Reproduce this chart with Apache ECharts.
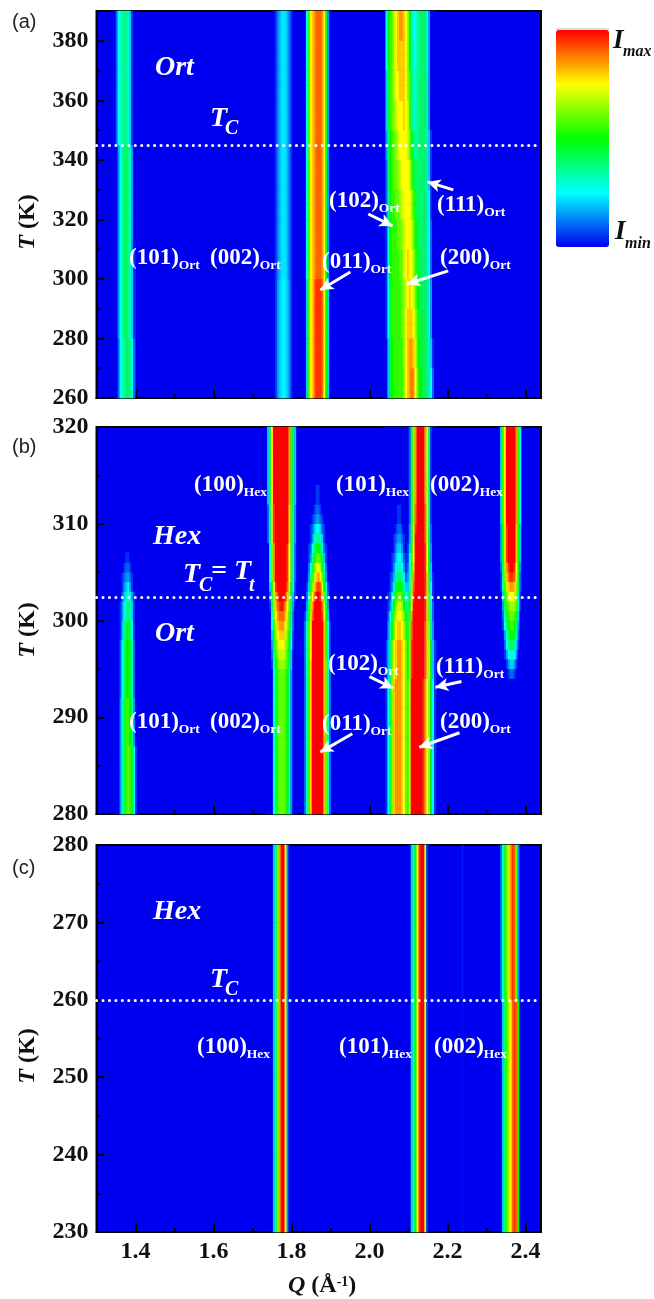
<!DOCTYPE html>
<html><head><meta charset="utf-8">
<style>html,body{margin:0;padding:0;background:#fff}#c{width:654px;height:1299px}</style>
<script src="https://cdn.jsdelivr.net/npm/echarts@6/dist/echarts.min.js"></script>
</head><body><div id="c"></div>
<script>
// Intensity is read on a 0-20 scale (blue 0, cyan 5, green 10, yellow 15, red 20).
// Each table: [T from, T to, intensities at successive Q columns, 0.005 apart].
const qMin = 1.30, qMax = 2.44, qStep = 0.005;

const a101 = [
 [260,280,[0,0,2,5,6,7,8,8,7,5,2]],
 [280,310,[0,0,3,5,7,8,8,7,6,4,1]],
 [310,345,[0,0,3,5,7,8,8,7,6,3,0]],
 [345,390,[0,2,5,6,7,7,7,6,4,1,0]]];
const a002 = [
 [260,300,[0,1,3,4,4.5,5,4.5,4,3,1,0]],
 [300,390,[0,1,2.5,3.5,4.5,4.5,4.5,3.5,2.5,1,0]]];
const a011 = [
 [260,300,[0,4,11,15,16,18,19,19,19,18,15,10,4,0]],
 [300,390,[0,5,11,15,16,17,18,18,18,17,15,9,3,0]]];
const aBig = [
 [260,270,[0,0,4,9,10,11,11,11,11,11,13,15,16,17,18,17,15,12,10,10,9,8,8,7,5,2,0]],
 [270,280,[0,0,4,9,10,11,11,11,11,11,13,15,16,17,17,16,14,11,10,9,9,8,8,7,4,1,0]],
 [280,290,[0,1,5,9,11,11,11,11,11,12,13,15,16,16,16,15,13,11,9,9,9,8,8,6,3,0,0]],
 [290,300,[0,1,5,9,11,11,11,11,11,12,13,14,15,16,15,14,12,10,9,9,8,8,8,6,3,0,0]],
 [300,310,[0,1,6,10,11,11,11,11,12,12,14,15,16,15,15,13,11,9,9,8,8,8,7,5,2,0,0]],
 [310,320,[0,1,6,10,11,11,11,12,12,13,14,15,15,15,14,12,10,9,8,8,8,8,7,5,2,0,0]],
 [320,330,[0,2,7,10,11,11,12,12,13,14,15,15,15,15,13,11,9,8,8,8,8,8,7,5,1,0,0]],
 [330,340,[0,2,8,10,11,12,12,13,14,15,15,15,15,14,11,9,8,8,8,8,8,8,7,4,1,0,0]],
 [340,350,[0,3,8,10,11,12,13,14,15,15,15,15,14,12,10,8,7,7,8,8,8,8,7,4,1,0,0]],
 [350,360,[0,4,9,11,12,13,14,15,15,15,16,15,14,11,8,6,6,7,8,8,8,8,7,3,0,0,0]],
 [360,370,[0,4,9,11,12,14,15,15,16,16,16,15,13,11,8,6,6,7,8,8,8,8,7,3,0,0,0]],
 [370,380,[0,5,10,11,12,14,15,16,16,16,16,15,13,10,7,6,5,7,8,8,8,8,6,3,0,0,0]],
 [380,390,[0,5,10,11,12,14,15,16,17,17,16,15,13,10,7,5,5,7,8,8,8,8,6,3,0,0,0]]];

const b101 = [
 [280,287,[0,0,0,3,6,9,11,12,11,9,5,1,0]],
 [287,292,[0,0,0,3,6,9,11,11,10,7,3,0,0]],
 [292,298,[0,0,0,2,5,8,10,10,9,6,2,0,0]],
 [298,300,[0,0,0,1,4,7,9,9,8,5,1,0,0]],
 [300,302,[0,0,0,1,3,5,7,8,6,4,1,0,0]],
 [302,303,[0,0,0,0,2,4,6,6,5,3,1,0,0]],
 [303,304,[0,0,0,0,1,3,4,5,3,1,0,0,0]],
 [304,305,[0,0,0,0,1,2,3,3,2,1,0,0,0]],
 [305,306,[0,0,0,0,0,1,2,2,1,0,0,0,0]],
 [306,307,[0,0,0,0,0,0,1,1,0,0,0,0,0]]];
const b100 = [
 [280,295,[0,0,0,0,5,9,11,12,12,12,11,10,7,3,0,0,0]],
 [295,296,[0,0,0,1,6,10,12,13,13,13,12,11,8,4,0,0,0]],
 [296,297,[0,0,0,2,8,11,13,14,14,14,13,11,9,4,0,0,0]],
 [297,298,[0,0,0,3,9,12,14,15,15,15,13,12,10,5,1,0,0]],
 [298,299,[0,0,0,4,10,13,15,16,16,16,14,12,10,6,1,0,0]],
 [299,300,[0,0,0,5,11,14,16,17,17,17,15,13,11,7,2,0,0]],
 [300,301,[0,0,0,6,12,15,17,18,18,18,16,14,11,7,2,0,0]],
 [301,302,[0,0,1,8,13,16,18,19,20,19,17,15,12,8,3,0,0]],
 [302,303,[0,0,2,9,14,17,19,20,20,20,19,16,13,9,4,1,0]],
 [303,304,[0,0,4,10,15,19,20,20,20,20,20,18,14,10,5,1,0]],
 [304,308,[0,0,6,12,17,20,20,20,20,20,20,19,15,11,6,2,0]],
 [308,312,[0,2,8,14,19,20,20,20,20,20,20,20,16,11,7,3,0]],
 [312,320,[0,4,9,15,20,20,20,20,20,20,20,20,17,11,8,4,0]]];
const b011 = [
 [280,296,[0,2,6,11,16,20,20,20,20,20,20,16,12,6,2,0]],
 [296,300,[0,2,6,11,15,20,20,20,20,20,20,16,11,5,1,0]],
 [300,301,[0,1,4,9,14,18,20,20,20,20,19,15,9,4,0,0]],
 [301,302,[0,0,3,8,13,17,20,20,20,20,18,14,8,3,0,0]],
 [302,303,[0,0,2,6,11,15,18,20,20,19,16,12,6,2,0,0]],
 [303,304,[0,0,1,4,9,13,16,18,19,18,14,10,5,1,0,0]],
 [304,305,[0,0,0,3,7,11,14,16,17,15,12,8,3,0,0,0]],
 [305,306,[0,0,0,2,5,9,12,14,15,13,10,6,2,0,0,0]],
 [306,307,[0,0,0,1,3,7,10,12,12,11,8,4,1,0,0,0]],
 [307,308,[0,0,0,1,2,5,8,10,10,8,6,2,1,0,0,0]],
 [308,309,[0,0,0,0,1,3,6,7,7,6,4,1,0,0,0,0]],
 [309,310,[0,0,0,0,1,2,4,5,5,4,2,1,0,0,0,0]],
 [310,311,[0,0,0,0,0,1,2,3,3,2,1,0,0,0,0,0]],
 [311,312,[0,0,0,0,0,0,1,2,2,1,0,0,0,0,0,0]],
 [312,314,[0,0,0,0,0,0,0,1,1,0,0,0,0,0,0,0]]];
const bBig = [
 [280,294,[0,1,5,9,13,16,17,17,17,16,15,12,11,14,20,20,20,20,20,20,19,17,15,13,10,5,1]],
 [294,298,[0,1,4,8,12,15,16,17,17,16,15,12,10,13,19,20,20,20,20,20,20,18,16,14,10,4,1]],
 [298,300,[0,0,3,7,10,13,15,16,16,15,13,11,9,12,18,20,20,20,20,20,20,18,16,13,8,3,0]],
 [300,301,[0,0,2,5,9,12,14,15,15,14,12,10,8,11,17,20,20,20,20,20,20,19,16,12,7,2,0]],
 [301,302,[0,0,1,3,7,10,13,14,14,13,10,8,7,10,15,20,20,20,20,20,20,19,16,12,6,2,0]],
 [302,303,[0,0,1,2,5,8,11,12,12,11,8,6,6,9,14,19,20,20,20,20,20,19,16,12,6,1,0]],
 [303,304,[0,0,0,1,3,6,9,10,10,9,6,4,4,7,13,18,20,20,20,20,20,19,16,11,5,1,0]],
 [304,305,[0,0,0,1,2,4,7,8,8,7,5,2,3,6,12,17,20,20,20,20,20,19,16,11,4,1,0]],
 [305,306,[0,0,0,0,1,3,5,6,6,5,3,1,2,5,11,16,20,20,20,20,20,19,15,10,4,0,0]],
 [306,307,[0,0,0,0,1,2,4,5,5,4,2,1,1,5,11,15,20,20,20,20,20,19,15,10,3,0,0]],
 [307,308,[0,0,0,0,0,1,3,4,4,3,1,0,1,4,10,15,20,20,20,20,20,19,15,9,3,0,0]],
 [308,309,[0,0,0,0,0,1,2,3,3,2,1,0,0,3,9,14,20,20,20,20,20,18,14,9,2,0,0]],
 [309,310,[0,0,0,0,0,0,1,2,2,1,0,0,0,3,9,14,19,20,20,20,20,18,14,8,2,0,0]],
 [310,312,[0,0,0,0,0,0,0,1,1,0,0,0,0,2,9,13,18,20,20,20,20,18,14,8,1,0,0]],
 [312,320,[0,0,0,0,0,0,0,0,0,0,0,0,0,2,9,13,17,20,20,20,20,17,14,8,1,0,0]]];
const b002 = [
 [294,295,[0,0,0,0,0,1,2,2,1,0,0,0,0]],
 [295,296,[0,0,0,0,1,3,4,4,3,1,0,0,0]],
 [296,297,[0,0,0,1,3,5,6,6,5,3,0,0,0]],
 [297,298,[0,0,0,2,5,7,8,8,7,4,1,0,0]],
 [298,299,[0,0,0,3,6,8,10,10,9,6,2,0,0]],
 [299,300,[0,0,1,5,8,10,11,11,10,8,3,0,0]],
 [300,301,[0,0,2,6,9,11,12,12,11,9,4,0,0]],
 [301,302,[0,0,3,8,11,12,13,13,13,11,6,1,0]],
 [302,303,[0,0,4,9,12,14,15,15,14,12,7,1,0]],
 [303,304,[0,1,6,11,14,16,17,17,16,13,8,2,0]],
 [304,305,[0,1,7,12,16,18,19,19,18,14,9,2,0]],
 [305,306,[0,2,8,13,17,19,20,20,19,15,10,3,0]],
 [306,310,[0,3,9,14,19,20,20,20,20,16,10,4,0]],
 [310,320,[0,4,11,15,20,20,20,20,20,17,11,5,0]]];

const c100 = [[230,280,[0,4,8,12,17,20,20,15,3,0]]];
const c101 = [[230,280,[0,4,7,10,15,19,20,20,14,1,0]]];
const cFaint = [[230,260,[0.2]],[260,280,[0.4]]];
const c002 = [
 [230,260,[0,4,8,11,13,15,18,19,18,10,0]],
 [260,280,[2,6,9,12,14,17,19,18,12,3,0]]];

const panelA = [[1.345,a101],[1.755,a002],[1.835,a011],[2.04,aBig]];
const panelB = [[1.345,b101],[1.735,b100],[1.83,b011],[2.04,bBig],[2.335,b002]];
const panelC = [[1.75,c100],[2.105,c101],[2.24,cFaint],[2.34,c002]];

const qMajor = [1.4,1.6,1.8,2.0,2.2,2.4];
const qMinor = [1.5,1.7,1.9,2.1,2.3];
const aMajor = [260,280,300,320,340,360,380], aMinor = [270,290,310,330,350,370];
const bMajor = [280,290,300,310,320], bMinor = [285,295,305,315];
const cMajor = [230,240,250,260,270,280], cMinor = [235,245,255,265,275];

// Arrows: [tail Q, tail T, head Q, head T]
const arrowsA = [[2.215,329.9,2.149,332.6],[1.997,321.8,2.059,317.8],[1.951,302.3,1.874,296.3],[2.202,302.7,2.097,298.3]];
const arrowsB = [[2.0,294.2,2.061,293.0],[2.236,293.7,2.169,293.1],[1.956,288.3,1.874,286.4],[2.231,288.4,2.128,286.9]];
const tcA = 345, tcB = 302.4, tcC = 260;

const SERIF = 'Liberation Serif';
const panels = [
 {peaks:panelA,tMin:260,tMax:390,tStep:5,major:aMajor,minor:aMinor,top:11,arrows:arrowsA,tc:tcA,xLabels:false},
 {peaks:panelB,tMin:280,tMax:320,tStep:1,major:bMajor,minor:bMinor,top:427,arrows:arrowsB,tc:tcB,xLabels:false},
 {peaks:panelC,tMin:230,tMax:280,tStep:10,major:cMajor,minor:cMinor,top:845,arrows:[],tc:tcC,xLabels:true}
];
const nCols = Math.round((qMax-qMin)/qStep)+1;
const qCats = Array.from({length:nCols},(_,i)=>(qMin+i*qStep).toFixed(3));

function cellsOf(p){
  const nRows=Math.round((p.tMax-p.tMin)/p.tStep), out=[];
  for(const [q0,bands] of p.peaks){
    const c0=Math.round((q0-qMin)/qStep);
    for(let r=0;r<nRows;r++){
      const tc=p.tMin+(r+.5)*p.tStep;
      const b=bands.find(b=>tc>=b[0]&&tc<b[1]);
      if(b) b[2].forEach((v,j)=>out.push([c0+j,r,v]));
    }
  }
  return {out,nRows};
}
const grid=[],xAxis=[],yAxis=[],series=[];
const tick=(len,w)=>({show:true,inside:true,length:len,lineStyle:{color:'#000',width:w}});
const lbl={fontFamily:SERIF,fontWeight:'bold',fontSize:24,color:'#111',margin:8};
panels.forEach((p,i)=>{
  grid.push({left:96.5,width:444.5,top:p.top,height:387,show:true,backgroundColor:'#0000f0',borderColor:'#000',borderWidth:2});
  const {out,nRows}=cellsOf(p);
  xAxis.push({type:'category',gridIndex:i,position:'top',data:qCats,show:false,boundaryGap:true});
  xAxis.push({type:'value',gridIndex:i,position:'bottom',min:qMin,max:qMax,splitLine:{show:false},
    axisLine:{show:true,onZero:false,lineStyle:{color:'#000',width:2}},
    axisTick:Object.assign(tick(8,2),{customValues:qMajor}),
    axisLabel:Object.assign({show:p.xLabels,customValues:qMajor,formatter:v=>v.toFixed(1)},lbl)});
  xAxis.push({type:'value',gridIndex:i,position:'bottom',min:qMin,max:qMax,splitLine:{show:false},
    axisLine:{show:false,onZero:false},
    axisTick:Object.assign(tick(4,2),{customValues:qMinor}),axisLabel:{show:false}});
  yAxis.push({type:'category',gridIndex:i,position:'right',show:false,boundaryGap:true,
    data:Array.from({length:nRows},(_,r)=>String(p.tMin+(r+.5)*p.tStep))});
  yAxis.push({type:'value',gridIndex:i,position:'left',min:p.tMin,max:p.tMax,splitLine:{show:false},
    axisLine:{show:true,onZero:false,lineStyle:{color:'#000',width:2}},
    axisTick:Object.assign(tick(8,2),{customValues:p.major}),
    axisLabel:Object.assign({show:true,customValues:p.major},lbl)});
  yAxis.push({type:'value',gridIndex:i,position:'left',min:p.tMin,max:p.tMax,splitLine:{show:false},
    axisLine:{show:false,onZero:false},
    axisTick:Object.assign(tick(4,2),{customValues:p.minor}),axisLabel:{show:false}});
  series.push({type:'heatmap',xAxisIndex:3*i,yAxisIndex:3*i,data:out,progressive:0,silent:true,z:2});
});
panels.forEach((p,i)=>{
  series.push({type:'line',xAxisIndex:3*i+1,yAxisIndex:3*i+1,data:[],silent:true,z:6,
    markLine:{silent:true,animation:false,symbol:['none','none'],label:{show:false},
      data:[
        [{coord:[qMin,p.tc],lineStyle:{color:'#fff',width:3,type:[0.1,6.35],cap:'round'}},{coord:[qMax,p.tc]}],
        ...p.arrows.map(a=>[{coord:[a[0],a[1]],symbol:'none',lineStyle:{color:'#fff',width:3,type:'solid'}},
                            {coord:[a[2],a[3]],symbol:'arrow',symbolSize:[10,13]}])
      ]}});
});

const w='#fff';
const richLabel={
  m:{fontFamily:SERIF,fontWeight:'bold',fontSize:23,lineHeight:26,fill:w,padding:[0,0,3,0],verticalAlign:'bottom'},
  s:{fontFamily:SERIF,fontWeight:'bold',fontSize:13.5,lineHeight:14,fill:w,verticalAlign:'bottom'}
};
const tag=(x,y,main,sub)=>({type:'text',z:20,silent:true,x,y:y+1.5,style:{text:`{m|${main}}{s|${sub}}`,rich:richLabel,verticalAlign:'middle',align:'left'}});
const bi=(x,y,t,size)=>({type:'text',z:20,silent:true,x,y,style:{text:t,fontFamily:SERIF,fontWeight:'bold',fontStyle:'italic',fontSize:size,fill:w,verticalAlign:'middle',align:'left'}});
const black=(x,y,t,size)=>({type:'text',z:20,silent:true,x,y,style:{text:t,fontFamily:SERIF,fontWeight:'bold',fontStyle:'italic',fontSize:size,fill:'#111',verticalAlign:'middle',align:'left'}});
const panelTag=(y,t)=>({type:'text',silent:true,x:12,y,style:{text:t,fontFamily:'Liberation Sans',fontSize:20,fill:'#222',verticalAlign:'middle'}});
const tAxis=(y)=>({type:'text',silent:true,x:28,y,rotation:Math.PI/2,style:{
  text:'{i|T}{b| (K)}',align:'center',verticalAlign:'middle',
  rich:{i:{fontFamily:SERIF,fontWeight:'bold',fontStyle:'italic',fontSize:24,fill:'#111'},b:{fontFamily:SERIF,fontWeight:'bold',fontSize:24,fill:'#111'}}}});

const graphic=[
  panelTag(22,'(a)'),panelTag(447,'(b)'),panelTag(868,'(c)'),
  tAxis(222),tAxis(630),tAxis(1056),
  {type:'text',silent:true,x:288,y:1286,style:{text:'{i|Q}{b| (Å}{u|-1}{b|)}',verticalAlign:'middle',align:'left',
    rich:{i:{fontFamily:SERIF,fontWeight:'bold',fontStyle:'italic',fontSize:24,fill:'#111'},
          b:{fontFamily:SERIF,fontWeight:'bold',fontSize:24,fill:'#111'},
          u:{fontFamily:SERIF,fontWeight:'bold',fontSize:14,fill:'#111',padding:[0,0,8,0]}}}},
  tag(129,258,'(101)','Ort'),tag(210,258,'(002)','Ort'),tag(322,262,'(011)','Ort'),tag(440,258,'(200)','Ort'),
  tag(329,201,'(102)','Ort'),tag(437,205,'(111)','Ort'),
  tag(129,722,'(101)','Ort'),tag(210,722,'(002)','Ort'),tag(322,724,'(011)','Ort'),tag(440,722,'(200)','Ort'),
  tag(328,664,'(102)','Ort'),tag(436,667,'(111)','Ort'),
  tag(194,485,'(100)','Hex'),tag(336,485,'(101)','Hex'),tag(430,485,'(002)','Hex'),
  tag(197,1047,'(100)','Hex'),tag(339,1047,'(101)','Hex'),tag(434,1047,'(002)','Hex'),
  bi(155,68,'Ort',28),bi(210,119,'T',28),bi(225,129,'C',20),
  bi(153,537,'Hex',28),bi(183,575,'T',28),bi(199,586,'C',20),bi(211,572,'= T',28),bi(249,586,'t',20),
  bi(155,634,'Ort',28),
  bi(153,912,'Hex',28),bi(210,980,'T',28),bi(225,990,'C',20),
  black(613,41,'I',27),black(623,52,'max',16),black(615,232,'I',27),black(625,244,'min',16),
  {type:'rect',silent:true,shape:{x:556,y:28,width:53,height:2},style:{fill:'#ddd'}}
];

const chart=echarts.init(document.getElementById('c'),null,{renderer:'canvas'});
chart.setOption({
  animation:false,backgroundColor:'#fff',grid,xAxis,yAxis,series,graphic,
  visualMap:{type:'continuous',min:0,max:20,seriesIndex:[0,1,2],calculable:false,show:true,padding:0,
    left:556,top:30,itemWidth:53,itemHeight:217,text:null,showLabel:false,realtime:false,hoverLink:false,
    inRange:{color:['#0000f0','#00ffff','#00ff00','#ffff00','#ff0000']}}
});
</script></body></html>
